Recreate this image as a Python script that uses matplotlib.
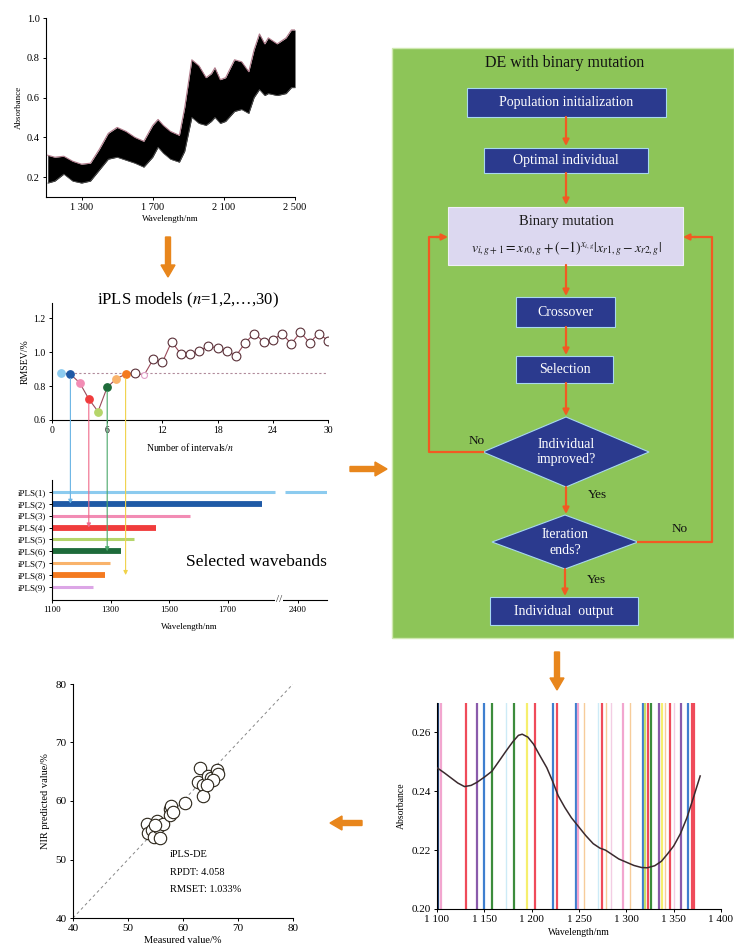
import numpy as np
import matplotlib
matplotlib.use('Agg')
import matplotlib.pyplot as plt
from matplotlib.patches import Rectangle, Polygon, ConnectionPatch
from matplotlib.transforms import blended_transform_factory

plt.rcParams['font.family'] = ['Liberation Serif', 'DejaVu Serif']
plt.rcParams['mathtext.fontset'] = 'stix'
plt.rcParams['axes.linewidth'] = 0.8

# NIR spectra envelope (upper / lower edge of the band of all samples)
spec_wl = [1110, 1150, 1200, 1250, 1300, 1350, 1400, 1450, 1500, 1550, 1600, 1650,
           1700, 1730, 1760, 1800, 1850, 1880, 1920, 1960, 2000, 2030, 2050, 2080,
           2110, 2160, 2200, 2240, 2270, 2300, 2330, 2350, 2400, 2450, 2480, 2500]
spec_upper = [0.31, 0.30, 0.305, 0.28, 0.265, 0.27, 0.34, 0.42, 0.45, 0.43, 0.40, 0.38,
              0.46, 0.49, 0.46, 0.43, 0.41, 0.55, 0.79, 0.76, 0.70, 0.72, 0.75, 0.69,
              0.70, 0.79, 0.78, 0.73, 0.84, 0.92, 0.87, 0.90, 0.87, 0.90, 0.94, 0.94]
spec_lower = [0.17, 0.18, 0.215, 0.18, 0.17, 0.18, 0.235, 0.29, 0.30, 0.285, 0.27, 0.25,
              0.30, 0.35, 0.32, 0.29, 0.275, 0.33, 0.50, 0.47, 0.46, 0.48, 0.50, 0.47,
              0.48, 0.53, 0.54, 0.52, 0.60, 0.64, 0.61, 0.62, 0.61, 0.62, 0.65, 0.65]

# iPLS models
n_intervals = list(range(1, 31))
rmsev = [0.875, 0.870, 0.820, 0.724, 0.650, 0.793, 0.844, 0.870, 0.880, 0.864,
         0.958, 0.940, 1.062, 0.990, 0.990, 1.007, 1.037, 1.023, 1.007, 0.978,
         1.056, 1.110, 1.062, 1.072, 1.110, 1.050, 1.117, 1.056, 1.110, 1.068]
rmsev_ref = 0.875
picked_n = [2, 4, 6, 8]

# selected wavebands
band_labels = ['iPLS(1)', 'iPLS(2)', 'iPLS(3)', 'iPLS(4)', 'iPLS(5)',
               'iPLS(6)', 'iPLS(7)', 'iPLS(8)', 'iPLS(9)']
band_start = [1100, 1100, 1100, 1100, 1100, 1100, 1100, 1100, 1100]
band_end = [1862, 1818, 1572, 1455, 1380, 1335, 1298, 1280, 1240]
band1_tail = [2355, 2500]

# wavelengths selected by iPLS-DE
sel_wl = [1101, 1104, 1131, 1142, 1150, 1158, 1173, 1181, 1195, 1203, 1223, 1227,
          1247, 1249, 1255, 1270, 1274, 1279, 1284, 1296, 1304, 1318, 1320, 1323,
          1326, 1334, 1338, 1341, 1346, 1350, 1358, 1365, 1369, 1371]
abs_wl = [1100, 1108, 1115, 1122, 1129, 1136, 1142, 1150, 1158, 1165, 1173, 1180,
          1186, 1190, 1196, 1202, 1208, 1216, 1222, 1228, 1235, 1242, 1250, 1257,
          1265, 1272, 1278, 1285, 1292, 1300, 1308, 1316, 1322, 1330, 1337, 1343,
          1350, 1357, 1364, 1371, 1378]
abs_val = [0.2480, 0.2462, 0.2445, 0.2428, 0.2416, 0.2420, 0.2430, 0.2448, 0.2468,
           0.2500, 0.2537, 0.2568, 0.2590, 0.2594, 0.2584, 0.2560, 0.2525, 0.2480,
           0.2435, 0.2385, 0.2345, 0.2310, 0.2278, 0.2250, 0.2222, 0.2207, 0.2200,
           0.2185, 0.2170, 0.2159, 0.2148, 0.2141, 0.2140, 0.2147, 0.2162, 0.2185,
           0.2214, 0.2255, 0.2310, 0.2380, 0.2452]

# prediction set
measured = [53.4, 53.7, 54.3, 54.7, 55.2, 55.5, 55.8, 56.4, 54.9, 57.6, 57.9, 57.6,
            60.4, 63.0, 62.8, 63.7, 63.6, 64.6, 65.0, 66.1, 66.4, 65.5, 64.3, 58.1]
predicted = [56.1, 54.5, 55.1, 53.9, 56.5, 55.6, 53.7, 56.1, 55.9, 58.6, 59.1, 57.6,
             59.6, 65.7, 63.3, 62.8, 60.9, 64.2, 63.9, 65.3, 64.7, 63.6, 62.8, 58.2]

W, H = 734, 951
fig = plt.figure(figsize=(W / 100, H / 100), dpi=100)


def px_axes(x0, y0, x1, y1):
    return fig.add_axes([x0 / W, 1 - y1 / H, (x1 - x0) / W, (y1 - y0) / H])


def clean(ax, size=7):
    ax.spines['top'].set_visible(False)
    ax.spines['right'].set_visible(False)
    ax.tick_params(labelsize=size, length=2.5, width=0.7, pad=2)


# ---------- overlay for flowchart and big arrows ----------
ov = fig.add_axes([0, 0, 1, 1])
ov.set_xlim(0, W)
ov.set_ylim(H, 0)
ov.axis('off')

green = '#8dc558'
navy = '#2b3a8e'
flow = '#f15a22'
big = '#e8861c'

ov.add_patch(Rectangle((392, 48), 342, 590, fc=green, ec='#cfe8b0', lw=1))
ov.text(565, 63, 'DE with binary mutation', ha='center', va='center', fontsize=11.5, color='#111111')


def box(x0, y0, x1, y1, txt, fc=navy, tc='white'):
    ov.add_patch(Rectangle((x0, y0), x1 - x0, y1 - y0, fc=fc, ec='#a8d8f0', lw=0.8))
    ov.text((x0 + x1) / 2, (y0 + y1) / 2, txt, ha='center', va='center', fontsize=10, color=tc)


def diamond(cx, cy, hw, hh, txt):
    ov.add_patch(Polygon([(cx - hw, cy), (cx, cy - hh), (cx + hw, cy), (cx, cy + hh)],
                         closed=True, fc=navy, ec='#a8d8f0', lw=0.8))
    ov.text(cx, cy, txt, ha='center', va='center', fontsize=10, color='white', linespacing=1.3)


def farrow(x0, y0, x1, y1):
    ov.annotate('', xy=(x1, y1), xytext=(x0, y0),
                arrowprops=dict(arrowstyle='-|>', color=flow, lw=1.6, mutation_scale=9,
                                shrinkA=0, shrinkB=0))


box(467, 88, 666, 117, 'Population initialization')
farrow(566, 117, 566, 146)
box(484, 148, 648, 173, 'Optimal individual')
farrow(566, 173, 566, 205)
ov.add_patch(Rectangle((448, 207), 235, 58, fc='#dcd8f0', ec='#f0f0f8', lw=0.8))
ov.text(566, 222, 'Binary mutation', ha='center', va='center', fontsize=10.5, color='#1a1a1a')
ov.text(566, 249, r'$v_{i,g+1}=x_{r0,g}+(-1)^{x_{i,g}}|x_{r1,g}-x_{r2,g}|$',
        ha='center', va='center', fontsize=10, color='#1a1a1a')
farrow(566, 265, 566, 296)
box(516, 297, 615, 327, 'Crossover')
farrow(566, 327, 566, 355)
box(516, 356, 613, 383, 'Selection')
farrow(566, 383, 566, 416)
diamond(566, 452, 83, 35, 'Individual\nimproved?')
farrow(566, 487, 566, 514)
diamond(565, 542, 73, 27, 'Iteration\nends?')
farrow(565, 569, 565, 596)
box(490, 597, 638, 625, 'Individual  output')

ov.plot([483, 429, 429, 440], [452, 452, 237, 237], color=flow, lw=1.6)
farrow(436, 237, 448, 237)
ov.plot([638, 712, 712, 695], [542, 542, 237, 237], color=flow, lw=1.6)
farrow(696, 237, 683, 237)
ov.text(477, 441, 'No', ha='center', va='center', fontsize=9.5, color='#111111')
ov.text(680, 529, 'No', ha='center', va='center', fontsize=9.5, color='#111111')
ov.text(597, 495, 'Yes', ha='center', va='center', fontsize=9.5, color='#111111')
ov.text(596, 580, 'Yes', ha='center', va='center', fontsize=9.5, color='#111111')

# big arrows linking panels
ov.arrow(168, 237, 0, 40, width=5, head_width=14, head_length=12, length_includes_head=True, color=big)
ov.arrow(350, 469, 37, 0, width=5, head_width=14, head_length=12, length_includes_head=True, color=big)
ov.arrow(557, 652, 0, 38, width=5, head_width=14, head_length=12, length_includes_head=True, color=big)
ov.arrow(362, 823, -32, 0, width=5, head_width=14, head_length=12, length_includes_head=True, color=big)

# ---------- spectra ----------
ax1 = px_axes(46, 18, 295, 197)
ax1.fill_between(spec_wl, spec_lower, spec_upper, color='black', lw=0)
ax1.plot(spec_wl, spec_upper, color='#b07a8a', lw=0.8)
ax1.plot(spec_wl, spec_lower, color='#555555', lw=0.6)
ax1.set_xlim(1100, 2500)
ax1.set_ylim(0.1, 1.0)
ax1.set_xticks([1300, 1700, 2100, 2500], ['1 300', '1 700', '2 100', '2 500'])
ax1.set_yticks([0.2, 0.4, 0.6, 0.8, 1.0])
ax1.set_xlabel('Wavelength/nm', fontsize=6.5, labelpad=2)
ax1.set_ylabel('Absorbance', fontsize=6.5, labelpad=3)
clean(ax1, 7.5)

# ---------- iPLS models ----------
ax2 = px_axes(52, 303, 328, 420)
fill_cols = ['#8ccbef', '#1f5aa6', '#f28cb4', '#f03c3c', '#b5d56a', '#1e6b3a', '#f9b36b', '#f47a20']
ax2.axhline(rmsev_ref, xmin=1 / 30, xmax=1, color='#b08a9a', lw=0.8, ls=(0, (2, 2)))
ax2.plot(n_intervals, rmsev, color='#9a4a5a', lw=0.8, zorder=2)
for i, (n, v) in enumerate(zip(n_intervals, rmsev)):
    if i < 8:
        ax2.scatter(n, v, s=28, color=fill_cols[i], zorder=3)
    elif i == 9:
        ax2.scatter(n, v, s=18, facecolor='white', edgecolor='#e0a0c8', lw=0.8, zorder=3)
    else:
        ax2.scatter(n, v, s=40, facecolor='white', edgecolor='#5a3038', lw=0.8, zorder=3)
ax2.set_xlim(0, 30)
ax2.set_ylim(0.6, 1.29)
ax2.set_xticks([0, 6, 12, 18, 24, 30])
ax2.set_yticks([0.6, 0.8, 1.0, 1.2])
ax2.set_xlabel('Number of intervals/$n$', fontsize=7, labelpad=4)
ax2.set_ylabel('RMSEV/%', fontsize=7, labelpad=3)
clean(ax2, 7)
fig.text(188 / W, 1 - 300 / H, 'iPLS models ($n$=1,2,…,30)', ha='center', va='center', fontsize=12)

# ---------- selected wavebands ----------
ax3 = px_axes(52, 480, 327, 600)


def fwd(x):
    x = np.asarray(x, float)
    return np.where(x <= 1870, x, np.where(x < 2350, 1870 + (x - 1870) * 20 / 480, x - 2350 + 1890))


def inv(y):
    y = np.asarray(y, float)
    return np.where(y <= 1870, y, np.where(y < 1890, 1870 + (y - 1870) * 480 / 20, y + 2350 - 1890))


ax3.set_xscale('function', functions=(fwd, inv))
band_cols = ['#8ccbef', '#1f5aa6', '#f28cb4', '#f03c3c', '#b5d56a', '#1e6b3a', '#f9b36b', '#f47a20', '#dca6e6']
band_lw = [2.2, 4.2, 2.2, 4.2, 2.2, 4.2, 2.2, 4.2, 2.2]
rows = np.arange(1, 10)
for r, s, e, c, w in zip(rows, band_start, band_end, band_cols, band_lw):
    ax3.plot([s, e], [r, r], color=c, lw=w, solid_capstyle='butt')
ax3.plot(band1_tail, [1, 1], color=band_cols[0], lw=band_lw[0], solid_capstyle='butt')
ax3.set_xlim(1100, 2500)
ax3.set_ylim(10.1, 0)
ax3.set_yticks(rows, band_labels)
ax3.set_xticks([1100, 1300, 1500, 1700, 2400], ['1100', '1300', '1500', '1700', '2400'])
ax3.set_xlabel('Wavelength/nm', fontsize=6.5, labelpad=6)
clean(ax3, 6.5)
ax3.text(2000, 10.1, '//', ha='center', va='center', fontsize=8, color='#333333',
         bbox=dict(fc='white', ec='none', pad=0.5), clip_on=False)
ax3.text(2500, 6.9, 'Selected wavebands', ha='right', va='center', fontsize=12.5)

# arrows from picked models down to their wavebands
line_cols = ['#6ab4e4', '#f06a8a', '#4aa86a', '#f0d24a']
btrans = blended_transform_factory(ax2.transData, ax3.transData)
for n, c in zip(picked_n, line_cols):
    con = ConnectionPatch(xyA=(n, rmsev[n - 1]), coordsA=ax2.transData,
                          xyB=(n, n), coordsB=btrans, arrowstyle='-|>',
                          color=c, lw=0.8, mutation_scale=6, shrinkA=3, shrinkB=0)
    fig.add_artist(con)

# ---------- selected wavelengths over absorbance ----------
ax5 = px_axes(437, 703, 721, 909)
dk, pk, rd, pu, bl = '#1f3f73', '#f2a6cf', '#ef4b5a', '#8a5bab', '#3f7fcf'
gr, cy, ye, lo, lp, yg = '#3c8c3c', '#cdebf7', '#f6ef6e', '#f7cc9a', '#f3cde3', '#c5de6a'
sel_cols = [dk, pk, rd, pu, bl, gr, cy, gr, ye, rd, bl, rd,
            bl, pk, lo, cy, rd, lo, lp, pk, lo, bl, yg, rd,
            gr, pu, ye, lo, rd, lp, pu, bl, rd, rd]
for w, c in zip(sel_wl, sel_cols):
    ax5.axvline(w, color=c, lw=1.6 if c not in (cy, lo, lp) else 1.0, zorder=1)
ax5.plot(abs_wl, abs_val, color='#3a2a2e', lw=1.1, zorder=3)
ax5.set_xlim(1100, 1400)
ax5.set_ylim(0.20, 0.27)
ax5.set_xticks(np.arange(1100, 1401, 50), ['1 100', '1 150', '1 200', '1 250', '1 300', '1 350', '1 400'])
ax5.set_yticks([0.20, 0.22, 0.24, 0.26])
ax5.set_xlabel('Wavelength/nm', fontsize=7, labelpad=3)
ax5.set_ylabel('Absorbance', fontsize=7, labelpad=4)
clean(ax5, 8)

# ---------- prediction scatter ----------
ax6 = px_axes(73, 684, 293, 918)
ax6.plot([40, 80], [40, 80], color='#888888', lw=0.7, ls=(0, (3, 3)))
ax6.scatter(measured, predicted, s=80, facecolor='white', edgecolor='#2a2418', lw=0.8, zorder=3)
ax6.set_xlim(40, 80)
ax6.set_ylim(40, 80)
ax6.set_xticks([40, 50, 60, 70, 80])
ax6.set_yticks([40, 50, 60, 70, 80])
ax6.set_xlabel('Measured value/%', fontsize=7.5, labelpad=2)
ax6.set_ylabel('NIR predicted value/%', fontsize=7.5, labelpad=4)
clean(ax6, 8)
ax6.text(57.6, 50.8, 'iPLS-DE', fontsize=7.5, va='center')
ax6.text(57.6, 47.7, 'RPDT: 4.058', fontsize=7.5, va='center')
ax6.text(57.6, 44.8, 'RMSET: 1.033%', fontsize=7.5, va='center')

fig.savefig('out.png', dpi=100)
